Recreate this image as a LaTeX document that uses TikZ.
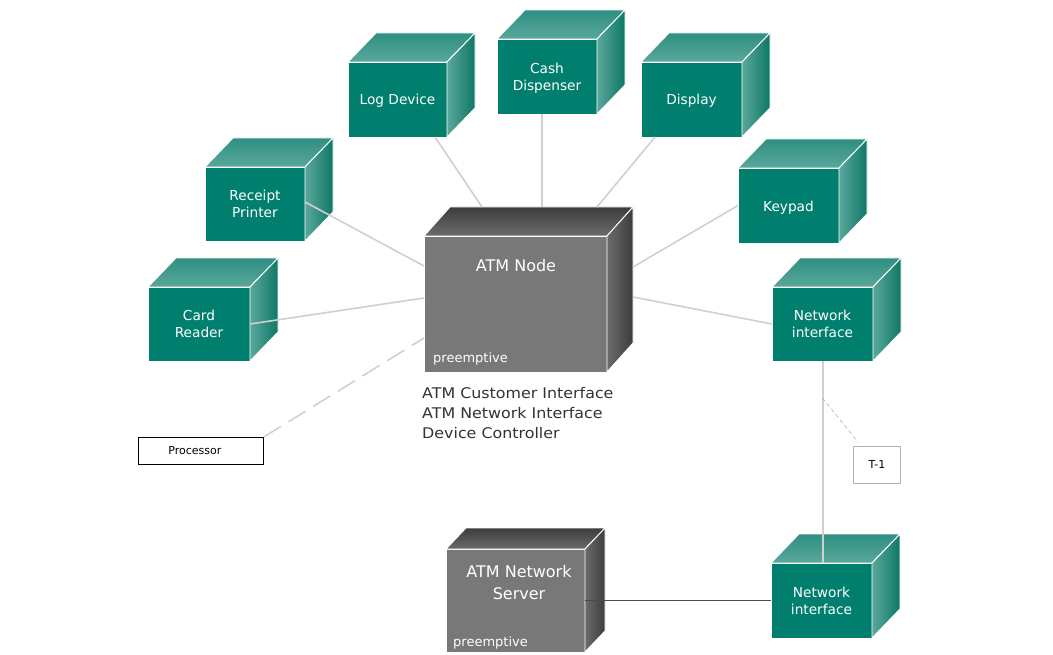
\documentclass[tikz,border=0pt]{standalone}
\usepackage{fontspec}
\setmainfont{DejaVu Sans}
\newfontfamily\subfont[FakeStretch=1.08]{DejaVu Sans}
\usetikzlibrary{calc}
\definecolor{tealF}{HTML}{007F6E}
\definecolor{tealL}{HTML}{5AA89B}
\definecolor{tealM}{HTML}{2E8F80}
\definecolor{tealD}{HTML}{0E7766}
\definecolor{grayF}{HTML}{787878}
\definecolor{grayL}{HTML}{6C6C6C}
\definecolor{grayD}{HTML}{3C3C3C}
\definecolor{conn}{HTML}{D0D0D0}
\definecolor{subtxt}{HTML}{333333}
\tikzset{
  greenfront/.style={fill=tealF, draw=white, line width=0.9pt, inner sep=0pt, outer sep=0pt},
  greentop/.style={top color=tealM, bottom color=tealL, draw=white, line width=0.9pt},
  greenside/.style={left color=tealL, right color=tealD, draw=white, line width=0.9pt},
  grayfront/.style={fill=grayF, draw=white, line width=0.9pt, inner sep=0pt, outer sep=0pt},
  graytop/.style={top color=grayD, bottom color=grayL, draw=white, line width=0.9pt},
  grayside/.style={left color=grayL, right color=grayD, draw=white, line width=0.9pt},
  boxtext/.style={text=white, align=center, font=\fontsize{13.7}{17}\selectfont, inner sep=0pt},
  bigtext/.style={text=white, align=center, font=\fontsize{16}{22}\selectfont, inner sep=0pt},
  pretext/.style={text=white, anchor=base west, font=\fontsize{13}{16}\selectfont, inner sep=0pt},
  subtext/.style={text=subtxt, align=left, anchor=north west, font=\subfont\fontsize{14.7}{20}\selectfont, inner sep=0pt},
  link/.style={draw=conn, line width=1.6pt},
  smallbox/.style={draw, line width=0.8pt, minimum width=125pt, minimum height=27pt, inner sep=0pt},
}
% name, x, y, w, h, dx, dy, kind (green/gray)
\newcommand\drawcube[8]{%
  \node[#8front, minimum width=#4pt, minimum height=#5pt, anchor=north west] (#1) at (#2,#3) {};
  \path[#8top] (#1.north west) -- ++(#6,-#7) -- ++(#4,0) -- (#1.north east) -- cycle;
  \path[#8side] (#1.north east) -- ++(#6,-#7) -- ++(0,#5) -- (#1.south east) -- cycle;
}
\begin{document}
\begin{tikzpicture}[x=1pt,y=-1pt]
\fill[white] (0,0) rectangle (1053,655);
\useasboundingbox (0,0) rectangle (1053,655);

% cubes
\drawcube{cr}{148}{287}{102}{74}{28}{29}{green}
\drawcube{rp}{205}{167}{100}{74}{28}{29}{green}
\drawcube{ld}{348}{62}{99}{75}{28}{29}{green}
\drawcube{cd}{497}{39}{100}{75}{28}{29}{green}
\drawcube{disp}{641}{62}{101}{75}{28}{29}{green}
\drawcube{kp}{738}{168}{101}{75}{28}{29}{green}
\drawcube{ni1}{772}{287}{101}{74}{28}{29}{green}
\drawcube{ni2}{771}{563}{101}{75}{28}{29}{green}
\drawcube{atm}{424}{236}{183}{136}{26}{29}{gray}
\drawcube{srv}{446}{549}{139}{103}{20}{21}{gray}

% other nodes
\node[smallbox, anchor=north west] (proc) at (138,437) {};
\node[font=\fontsize{11}{13}\selectfont, inner sep=0pt] (proct) at ([xshift=-6pt]proc.center) {Processor};
\node[draw=black!30, line width=0.8pt, minimum width=47pt, minimum height=37pt, inner sep=0pt, anchor=north west, font=\fontsize{11}{13}\selectfont] (t1) at (853,446) {T-1};

% connectors
\draw[link] (cr.east) -- ([yshift=6pt]atm.west);
\draw[link] ([yshift=2pt]rp.east) -- ([yshift=38pt]atm.west);
\draw[link] ([xshift=-12pt]ld.south east) -- ([shift={(58,-29)}]atm.north west);
\draw[link] ([xshift=-5pt]cd.south) -- ([shift={(118,-29)}]atm.north west);
\draw[link] ([xshift=14pt]disp.south west) -- ([shift={(173,-29)}]atm.north west);
\draw[link] (kp.west) -- ([shift={(26,31)}]atm.north east);
\draw[link] (ni1.west) -- ([shift={(26,61)}]atm.north east);
\draw[link, dash pattern=on 20pt off 9pt] (proc.north east) -- ([yshift=34pt]atm.south west);
\draw[link, line width=2pt] (ni1.south) -- (ni1.south |- ni2.north);
\draw[draw=black!35, line width=0.5pt, dash pattern=on 4pt off 3pt] ([yshift=-37pt]ni1.south) -- ([shift={(5,-4)}]t1.north west);
\draw[draw=black!70, line width=1pt] (srv.east) -- (ni2.west);

% labels
\node[boxtext] (crt) at (cr.center) {Card\\Reader};
\node[boxtext] (rpt) at (rp.center) {Receipt\\Printer};
\node[boxtext] (ldt) at ([yshift=-1pt]ld.center) {Log Device};
\node[boxtext] (cdt) at ([yshift=-2pt]cd.center) {Cash\\Dispenser};
\node[boxtext] (dispt) at ([yshift=-1pt]disp.center) {Display};
\node[boxtext] (kpt) at ([yshift=-2pt]kp.center) {Keypad};
\node[boxtext] (ni1t) at (ni1.center) {Network\\interface};
\node[boxtext] (ni2t) at (ni2.center) {Network\\interface};
\node[bigtext] (atmt) at (516,266) {ATM Node};
\node[pretext] (atmp) at (433,362) {preemptive};
\node[bigtext] (srvt) at (519,583) {ATM Network\\Server};
\node[pretext] (srvp) at (453,646) {preemptive};
\node[subtext] (sub) at (422,387) {ATM Customer Interface\\ATM Network Interface\\Device Controller};
\end{tikzpicture}
\end{document}
